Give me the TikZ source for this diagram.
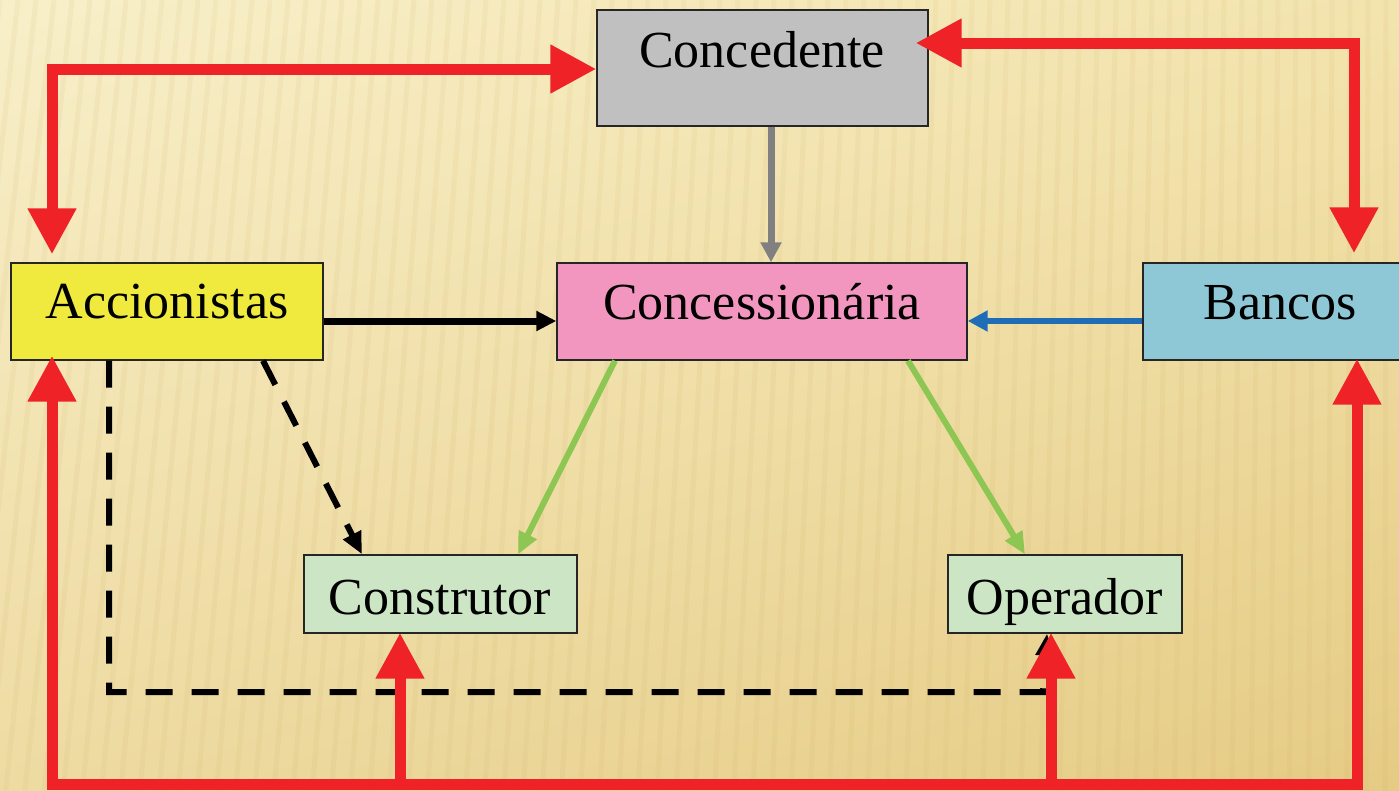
\documentclass[tikz,border=0pt]{standalone}
\usepackage{fontspec}
\setmainfont{Liberation Serif}
\usetikzlibrary{arrows.meta,calc,shadings}

\definecolor{bgTL}{HTML}{F8EFC9}
\definecolor{bgTR}{HTML}{F3E4AE}
\definecolor{bgBL}{HTML}{EEDBA2}
\definecolor{bgBR}{HTML}{E5CB84}
\definecolor{stripeC}{HTML}{C9A65A}
\definecolor{fillConc}{HTML}{C0C0C0}
\definecolor{fillAcc}{HTML}{EFEA3D}
\definecolor{fillCons}{HTML}{F296C0}
\definecolor{fillBanc}{HTML}{8EC8D6}
\definecolor{fillSub}{HTML}{CCE6C5}
\definecolor{arrRed}{HTML}{EE2227}
\definecolor{arrGreen}{HTML}{8DC652}
\definecolor{arrBlue}{HTML}{1F6DB6}
\definecolor{arrGray}{HTML}{808080}

\begin{document}
\begin{tikzpicture}[x=1pt,y=-1pt,
  box/.style={draw=black!85, line width=1.4pt, inner sep=0pt},
  lbl/.style={anchor=base, inner sep=0pt, font=\fontsize{52}{60}\selectfont},
  stripe/.style={draw=stripeC, line width=5pt, opacity=0.09},
  redboth/.style={draw=arrRed, line width=11pt, line join=miter,
    {Triangle[length=46pt,width=46pt]}-{Triangle[length=46pt,width=46pt]}},
  redup/.style={draw=arrRed, line width=11pt,
    -{Triangle[length=46pt,width=46pt]}},
  blackarr/.style={draw=black, line width=7pt, -{Triangle[length=20pt,width=19pt]}},
  bluearr/.style={draw=arrBlue, line width=6pt, -{Triangle[length=20pt,width=20pt]}},
  greenarr/.style={draw=arrGreen, line width=6pt, -{Triangle[length=22pt,width=19pt]}},
  grayarr/.style={draw=arrGray, line width=7pt, -{Triangle[length=20pt,width=20pt]}},
  dasharr/.style={draw=black, line width=6pt, dash pattern=on 27pt off 19pt,
    -{Triangle[length=22pt,width=19pt]}}
]
% page frame and wooden background
\clip (0,0) rectangle (1399,790);
\shade[upper left=bgTL, upper right=bgTR, lower left=bgBL, lower right=bgBR]
  (0,0) rectangle (1399,790);
\foreach \i in {0,...,78} {
  \pgfmathsetmacro\xa{\i*18}
  \pgfmathsetmacro\xb{\xa-90*(1-\xa/1399)}
  \draw[stripe] (\xa,0) -- (\xb,790);
}

% boxes
\node[box, fill=fillConc, minimum width=331pt, minimum height=116pt] (conc) at (762.5,68) {};
\node[box, fill=fillAcc,  minimum width=312pt, minimum height=97pt]  (acc)  at (167,311.5) {};
\node[box, fill=fillCons, minimum width=410pt, minimum height=97pt]  (cons) at (762,311.5) {};
\node[box, fill=fillBanc, minimum width=267pt, minimum height=97pt]  (banc) at (1276.5,311.5) {};
\node[box, fill=fillSub,  minimum width=273pt, minimum height=78pt]  (constr) at (440.5,594) {};
\node[box, fill=fillSub,  minimum width=234pt, minimum height=78pt]  (oper) at (1065,594) {};

% box texts
\node[lbl] (tConc)   at (762,67)   {Concedente};
\node[lbl] (tAcc)    at (167,318)  {Accionistas};
\node[lbl] (tCons)   at (762,319)  {Concessionária};
\node[lbl] (tBanc)   at (1280,319) {Bancos};
\node[lbl] (tConstr) at (440,614)  {Construtor};
\node[lbl] (tOper)   at (1065,614) {Operador};

% guide coordinates for connector positions
\coordinate (gx)  at (771,0);
\coordinate (hy)  at (0,321);
\coordinate (g1a) at (615,0);
\coordinate (g1b) at (518,0);
\coordinate (g2a) at (908,0);
\coordinate (g2b) at (1025,0);
\coordinate (d1a) at (263,0);
\coordinate (d1b) at (362,0);
\coordinate (dl)  at (109,0);
\coordinate (dbot) at (1043,692);
\coordinate (dtop) at (1047,0);
\coordinate (rl)  at (52,69);
\coordinate (rr)  at (1354,43);
\coordinate (rbr) at (1357,0);
\coordinate (bot) at (0,784);
\coordinate (cx)  at (400,0);
\coordinate (ox)  at (1051,0);

% inner connectors
\draw[grayarr]  (conc.south -| gx) -- (cons.north -| gx);
\draw[blackarr] (acc.east |- hy) -- (cons.west |- hy);
\draw[bluearr]  (banc.west |- hy) -- (cons.east |- hy);
\draw[greenarr] (cons.south -| g1a) -- (constr.north -| g1b);
\draw[greenarr] (cons.south -| g2a) -- (oper.north -| g2b);
\draw[dasharr]  (acc.south -| d1a) -- (constr.north -| d1b);
\draw[dasharr]  (acc.south -| dl) |- (dbot) -- (oper.south -| dtop);

% red flows
\draw[redboth, shorten <=8pt] (acc.north -| rl) -- (rl) -- (conc.west |- rl);
\draw[redboth, shorten <=-13pt, shorten >=9pt] (conc.east |- rr) -- (rr) -- (banc.north -| rr);
\draw[redboth, shorten <=-5pt, shorten >=-2pt]
  (acc.south -| rl) -- (rl |- bot) -- (rbr |- bot) -- (banc.south -| rbr);
\draw[redup, shorten >=-1pt] (cx |- bot) -- (constr.south -| cx);
\draw[redup, shorten >=-1pt] (ox |- bot) -- (oper.south -| ox);
\end{tikzpicture}
\end{document}
